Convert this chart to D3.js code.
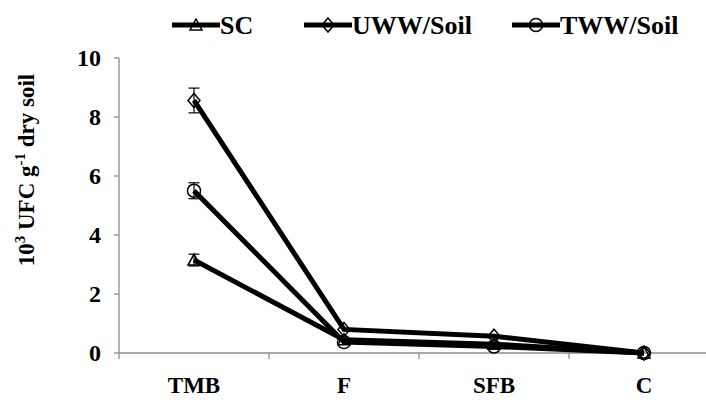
<!DOCTYPE html>
<html>
<head>
<meta charset="utf-8">
<script src="https://cdn.jsdelivr.net/npm/d3@7/dist/d3.min.js"></script>
<style>
  body { margin: 0; background: #fff; }
</style>
</head>
<body>
<svg id="chart" width="706" height="400"></svg>
<script>
// data
const categories = ['TMB', 'F', 'SFB', 'C']
const seriesNames = ['SC', 'UWW/Soil', 'TWW/Soil']
const scValues = [3.15, 0.45, 0.3, 0]
const uwwValues = [8.56, 0.8, 0.57, 0]
const twwValues = [5.5, 0.37, 0.22, 0]
const scErr = [0.2, 0, 0, 0]
const uwwErr = [0.42, 0, 0, 0]
const twwErr = [0.27, 0, 0, 0]
const yTicks = [0, 2, 4, 6, 8, 10]

const series = [
  { name: seriesNames[0], values: scValues, err: scErr, symbol: 'tri' },
  { name: seriesNames[1], values: uwwValues, err: uwwErr, symbol: 'dia' },
  { name: seriesNames[2], values: twwValues, err: twwErr, symbol: 'circ' }
]

const FONT = '"Liberation Serif", "Times New Roman", Tinos, Times, "DejaVu Serif", serif'

////////////////////////// SETUP //////////////////////////
const svg = d3.select('#chart')
  .style('font-family', FONT)
  .style('font-weight', 'bold')
const x0 = 119, yTop = 58, yBot = 353
const bandW = 150

const xScale = d3.scaleBand().domain(categories).range([x0, x0 + bandW * categories.length])
const yScale = d3.scaleLinear().domain([0, 10]).range([yBot, yTop])
const xc = (c) => xScale(c) + xScale.bandwidth() / 2

// marker shapes
const drawMarker = (g, type, cx, cy) => {
  if (type === 'circ') {
    g.append('circle').attr('cx', cx).attr('cy', cy).attr('r', 6.5)
      .attr('fill', 'none').attr('stroke', '#000').attr('stroke-width', 1.5)
  } else if (type === 'dia') {
    g.append('path')
      .attr('d', `M${cx},${cy - 7}L${cx + 6},${cy}L${cx},${cy + 7}L${cx - 6},${cy}Z`)
      .attr('fill', 'none').attr('stroke', '#000').attr('stroke-width', 1.5)
  } else {
    g.append('path')
      .attr('d', `M${cx},${cy - 6}L${cx + 6},${cy + 5}L${cx - 6},${cy + 5}Z`)
      .attr('fill', 'none').attr('stroke', '#000').attr('stroke-width', 1.5)
  }
}

////////////////////////// AXES //////////////////////////
const axisColor = '#8c8c8c'

// y axis
svg.append('line').attr('x1', x0).attr('x2', x0).attr('y1', yTop).attr('y2', yBot)
  .attr('stroke', axisColor).attr('stroke-width', 1.3)
yTicks.forEach((t) => {
  svg.append('line').attr('x1', x0 - 5).attr('x2', x0).attr('y1', yScale(t)).attr('y2', yScale(t))
    .attr('stroke', axisColor).attr('stroke-width', 1.3)
  svg.append('text').attr('x', 101).attr('y', yScale(t) + 8)
    .attr('text-anchor', 'end').attr('font-size', 24).text(t)
})

// x axis (runs off the right edge like the original)
svg.append('line').attr('x1', x0).attr('x2', 706).attr('y1', yBot).attr('y2', yBot)
  .attr('stroke', axisColor).attr('stroke-width', 1.3)
categories.forEach((c) => {
  svg.append('line').attr('x1', xScale(c)).attr('x2', xScale(c)).attr('y1', yBot).attr('y2', yBot + 6)
    .attr('stroke', axisColor).attr('stroke-width', 1.3)
  svg.append('text').attr('x', xc(c)).attr('y', 393)
    .attr('text-anchor', 'middle').attr('font-size', 23).text(c)
})

// y title
const yTitle = svg.append('text')
  .attr('transform', 'translate(34,170) rotate(-90)')
  .attr('text-anchor', 'middle').attr('font-size', 23)
yTitle.append('tspan').text('10')
yTitle.append('tspan').attr('font-size', 15).attr('dy', -9).text('3')
yTitle.append('tspan').attr('dy', 9).text(' UFC g')
yTitle.append('tspan').attr('font-size', 15).attr('dy', -9).text('-1')
yTitle.append('tspan').attr('dy', 9).text(' dry soil')

////////////////////////// SERIES //////////////////////////
const line = d3.line().x((d) => xc(d.c)).y((d) => yScale(d.v))

series.forEach((s) => {
  const pts = categories.map((c, i) => ({ c: c, v: s.values[i], e: s.err[i] }))
  const g = svg.append('g')

  // error bars
  pts.filter((d) => d.e > 0).forEach((d) => {
    const cx = xc(d.c)
    const ya = yScale(d.v + d.e), yb = yScale(d.v - d.e)
    g.append('line').attr('x1', cx).attr('x2', cx).attr('y1', ya).attr('y2', yb)
      .attr('stroke', '#000').attr('stroke-width', 1.2)
    g.append('line').attr('x1', cx - 5.5).attr('x2', cx + 5.5).attr('y1', ya).attr('y2', ya)
      .attr('stroke', '#000').attr('stroke-width', 1.2)
    g.append('line').attr('x1', cx - 5.5).attr('x2', cx + 5.5).attr('y1', yb).attr('y2', yb)
      .attr('stroke', '#000').attr('stroke-width', 1.2)
  })

  g.append('path').datum(pts).attr('d', line)
    .attr('fill', 'none').attr('stroke', '#000').attr('stroke-width', 5)

  pts.forEach((d) => drawMarker(g, s.symbol, xc(d.c), yScale(d.v)))
})

////////////////////////// LEGEND //////////////////////////
const legendPos = [172, 304, 512]
series.forEach((s, i) => {
  const lx = legendPos[i], ly = 25
  svg.append('line').attr('x1', lx).attr('x2', lx + 48).attr('y1', ly).attr('y2', ly)
    .attr('stroke', '#000').attr('stroke-width', 5)
  drawMarker(svg, s.symbol, lx + 24, ly)
  svg.append('text').attr('x', lx + 48).attr('y', ly + 9)
    .attr('font-size', 26).text(s.name)
})
</script>
</body>
</html>
